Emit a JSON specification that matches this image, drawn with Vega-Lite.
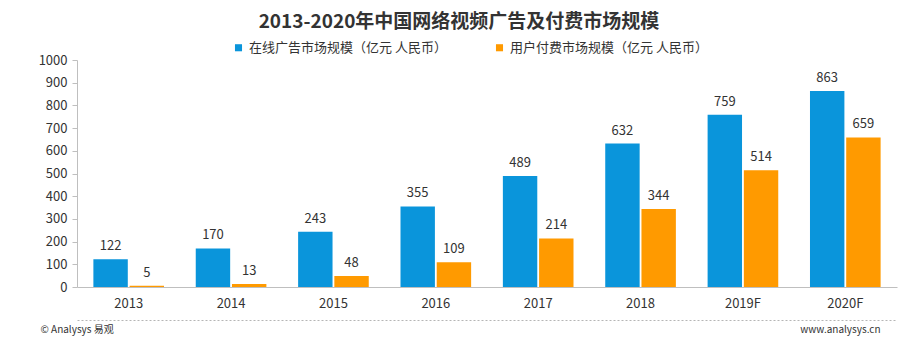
{
  "$schema": "https://vega.github.io/schema/vega-lite/v6.json",
  "width": 820,
  "height": 227,
  "autosize": "none",
  "padding": {"left": 77, "top": 60, "right": 23, "bottom": 52},
  "background": "white",
  "config": {"font": "Noto Sans CJK SC", "view": {"stroke": null}},
  "title": {
    "text": "2013-2020年中国网络视频广告及付费市场规模",
    "fontSize": 19,
    "fontWeight": "bold",
    "color": "#333333",
    "anchor": "middle",
    "frame": "group",
    "offset": 9,
    "dx": -28
  },
  "data": {
    "values": [
      {"year": "2013", "series": "在线广告市场规模（亿元 人民币）", "value": 122},
      {"year": "2014", "series": "在线广告市场规模（亿元 人民币）", "value": 170},
      {"year": "2015", "series": "在线广告市场规模（亿元 人民币）", "value": 243},
      {"year": "2016", "series": "在线广告市场规模（亿元 人民币）", "value": 355},
      {"year": "2017", "series": "在线广告市场规模（亿元 人民币）", "value": 489},
      {"year": "2018", "series": "在线广告市场规模（亿元 人民币）", "value": 632},
      {"year": "2019F", "series": "在线广告市场规模（亿元 人民币）", "value": 759},
      {"year": "2020F", "series": "在线广告市场规模（亿元 人民币）", "value": 863},
      {"year": "2013", "series": "用户付费市场规模（亿元 人民币）", "value": 5},
      {"year": "2014", "series": "用户付费市场规模（亿元 人民币）", "value": 13},
      {"year": "2015", "series": "用户付费市场规模（亿元 人民币）", "value": 48},
      {"year": "2016", "series": "用户付费市场规模（亿元 人民币）", "value": 109},
      {"year": "2017", "series": "用户付费市场规模（亿元 人民币）", "value": 214},
      {"year": "2018", "series": "用户付费市场规模（亿元 人民币）", "value": 344},
      {"year": "2019F", "series": "用户付费市场规模（亿元 人民币）", "value": 514},
      {"year": "2020F", "series": "用户付费市场规模（亿元 人民币）", "value": 659}
    ]
  },
  "encoding": {
    "x": {
      "field": "year",
      "type": "nominal",
      "sort": null,
      "scale": {"paddingInner": 0.31, "paddingOuter": 0.16}
    },
    "xOffset": {"field": "series", "type": "nominal", "sort": null, "scale": {"paddingInner": 0.05}},
    "y": {
      "field": "value",
      "type": "quantitative",
      "scale": {"domain": [0, 1000], "nice": false},
      "axis": {
        "values": [0, 100, 200, 300, 400, 500, 600, 700, 800, 900, 1000],
        "format": "d",
        "title": null,
        "grid": false,
        "domainColor": "#bfbfbf",
        "tickColor": "#bfbfbf",
        "tickSize": 5,
        "labelFontSize": 13,
        "labelColor": "#333333",
        "labelPadding": 5
      }
    }
  },
  "layer": [
    {
      "mark": {"type": "bar"},
      "encoding": {
        "x": {
          "field": "year",
          "type": "nominal",
          "sort": null,
          "axis": {
            "title": "© Analysys 易观",
            "titleX": -37,
            "titleY": 37,
            "titleAlign": "left",
            "titleBaseline": "top",
            "titleFontSize": 10,
            "titleFontWeight": "normal",
            "titleColor": "#333333",
            "labelAngle": 0,
            "labelFontSize": 13,
            "labelColor": "#333333",
            "labelPadding": 10,
            "ticks": false,
            "domainColor": "#bfbfbf"
          }
        },
        "color": {
          "field": "series",
          "type": "nominal",
          "sort": null,
          "scale": {"range": ["#0a95db", "#ff9a00"]},
          "legend": {
            "title": null,
            "orient": "none",
            "direction": "horizontal",
            "legendX": 155,
            "legendY": -19,
            "symbolType": "square",
            "symbolSize": 50,
            "labelFontSize": 13,
            "labelColor": "#333333",
            "columnPadding": 46,
            "labelLimit": 300
          }
        }
      }
    },
    {
      "mark": {"type": "text", "dy": -6, "fontSize": 13, "color": "#333333", "baseline": "bottom"},
      "encoding": {
        "x": {
          "field": "year",
          "type": "nominal",
          "sort": null,
          "axis": {
            "orient": "bottom",
            "offset": 33,
            "labels": false,
            "ticks": false,
            "domainColor": "#b5b5b5",
            "domainDash": [2, 2],
            "title": "www.analysys.cn",
            "titleX": 803,
            "titleY": 4,
            "titleAlign": "right",
            "titleBaseline": "top",
            "titleFontSize": 10,
            "titleFontWeight": "normal",
            "titleColor": "#333333"
          }
        },
        "text": {"field": "value", "type": "quantitative"}
      }
    }
  ],
  "resolve": {"axis": {"x": "independent"}}
}
